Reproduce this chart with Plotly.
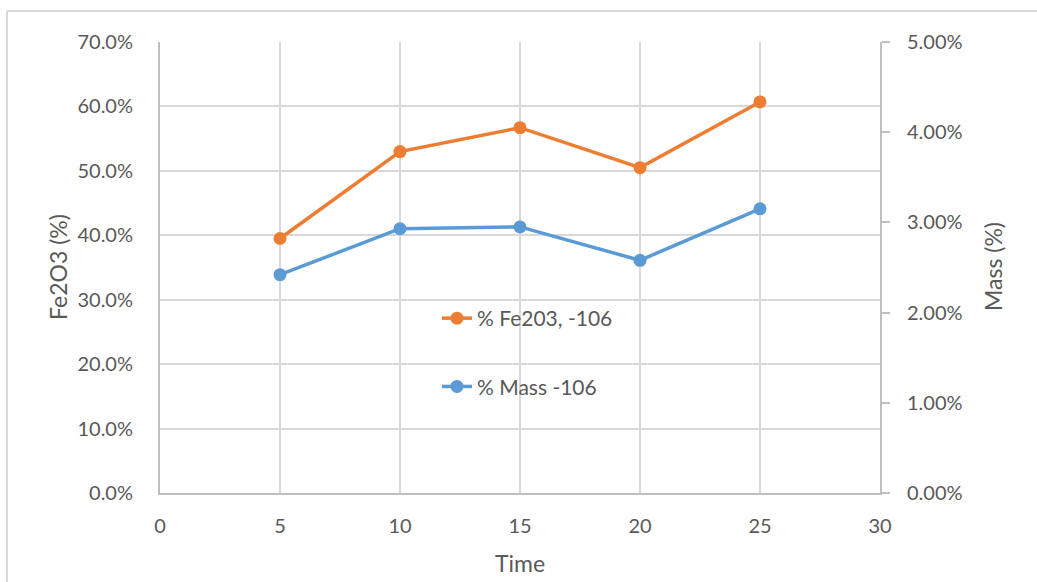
import plotly.graph_objects as go

time = [5, 10, 15, 20, 25]
fe2o3_pct = [39.5, 53.0, 56.7, 50.5, 60.7]
mass_pct = [2.42, 2.93, 2.95, 2.58, 3.15]
left_ticks = [0, 10, 20, 30, 40, 50, 60, 70]
right_ticks = [0, 1, 2, 3, 4, 5]
x_ticks = [0, 5, 10, 15, 20, 25, 30]

W, H = 1037, 582
L, R, T, B = 160, 157, 42, 89
pw, ph = W - L - R, H - T - B

def px(x):
    return (x - L) / pw

def py(y):
    return (H - B - y) / ph

FONT = "Lato"
TXT = "#595959"
GRID = "#d9d9d9"
AX = "#bfbfbf"

fig = go.Figure()
fig.add_trace(go.Scatter(
    x=time, y=fe2o3_pct, name="% Fe203, -106", mode="lines+markers",
    line=dict(color="#ED7D31", width=3.5), marker=dict(size=13, color="#ED7D31"),
    legendgroup="a", yaxis="y"))
fig.add_trace(go.Scatter(
    x=time, y=mass_pct, name="% Mass -106", mode="lines+markers",
    line=dict(color="#5B9BD5", width=3.5), marker=dict(size=13, color="#5B9BD5"),
    legendgroup="b", yaxis="y2"))

fig.update_layout(
    width=W, height=H,
    margin=dict(l=L, r=R, t=T, b=B, autoexpand=False),
    paper_bgcolor="white", plot_bgcolor="white",
    font=dict(family=FONT, size=20, color=TXT),
    xaxis=dict(range=[0, 30], tickvals=x_ticks, ticktext=[str(v) for v in x_ticks],
               showgrid=True, gridcolor=GRID, gridwidth=2,
               showline=True, linecolor=AX, linewidth=2, zeroline=False,
               ticks="", ticklabelstandoff=14, tickfont=dict(size=20, color=TXT)),
    yaxis=dict(range=[0, 70], tickvals=left_ticks,
               ticktext=[f"{v:.1f}%" for v in left_ticks],
               showgrid=True, gridcolor=GRID, gridwidth=2,
               showline=True, linecolor=AX, linewidth=2, zeroline=False,
               ticks="", ticklabelstandoff=21, tickfont=dict(size=20, color=TXT)),
    yaxis2=dict(range=[0, 5], tickvals=right_ticks,
                ticktext=[f"{v:.2f}%" for v in right_ticks],
                overlaying="y", side="right", showgrid=False,
                showline=True, linecolor=AX, linewidth=2, zeroline=False,
                ticks="outside", ticklen=8, tickwidth=2, tickcolor=AX,
                ticklabelstandoff=13, tickfont=dict(size=20, color=TXT)),
    legend=dict(x=px(437), y=py(298), xanchor="left", yanchor="top",
                bgcolor="rgba(0,0,0,0)", font=dict(size=21, color=TXT),
                tracegroupgap=38, traceorder="grouped"),
    showlegend=True,
    annotations=[
        dict(text="Fe2O3 (%)", x=px(58), y=py(267), xref="paper", yref="paper",
             xanchor="center", yanchor="middle",
             textangle=-90, showarrow=False, font=dict(size=23, color=TXT)),
        dict(text="Mass (%)", x=px(993), y=py(267), xref="paper", yref="paper",
             xanchor="center", yanchor="middle",
             textangle=-90, showarrow=False, font=dict(size=23, color=TXT)),
        dict(text="Time", x=px(520), y=py(563), xref="paper", yref="paper",
             xanchor="center", yanchor="middle",
             showarrow=False, font=dict(size=23, color=TXT)),
    ],
    shapes=[
        dict(type="line", xref="paper", yref="paper", x0=px(7), x1=px(1040),
             y0=py(11), y1=py(11), line=dict(color=GRID, width=2)),
        dict(type="line", xref="paper", yref="paper", x0=px(7), x1=px(7),
             y0=py(11), y1=py(590), line=dict(color=GRID, width=2)),
    ],
)

fig.write_html("out.html")
